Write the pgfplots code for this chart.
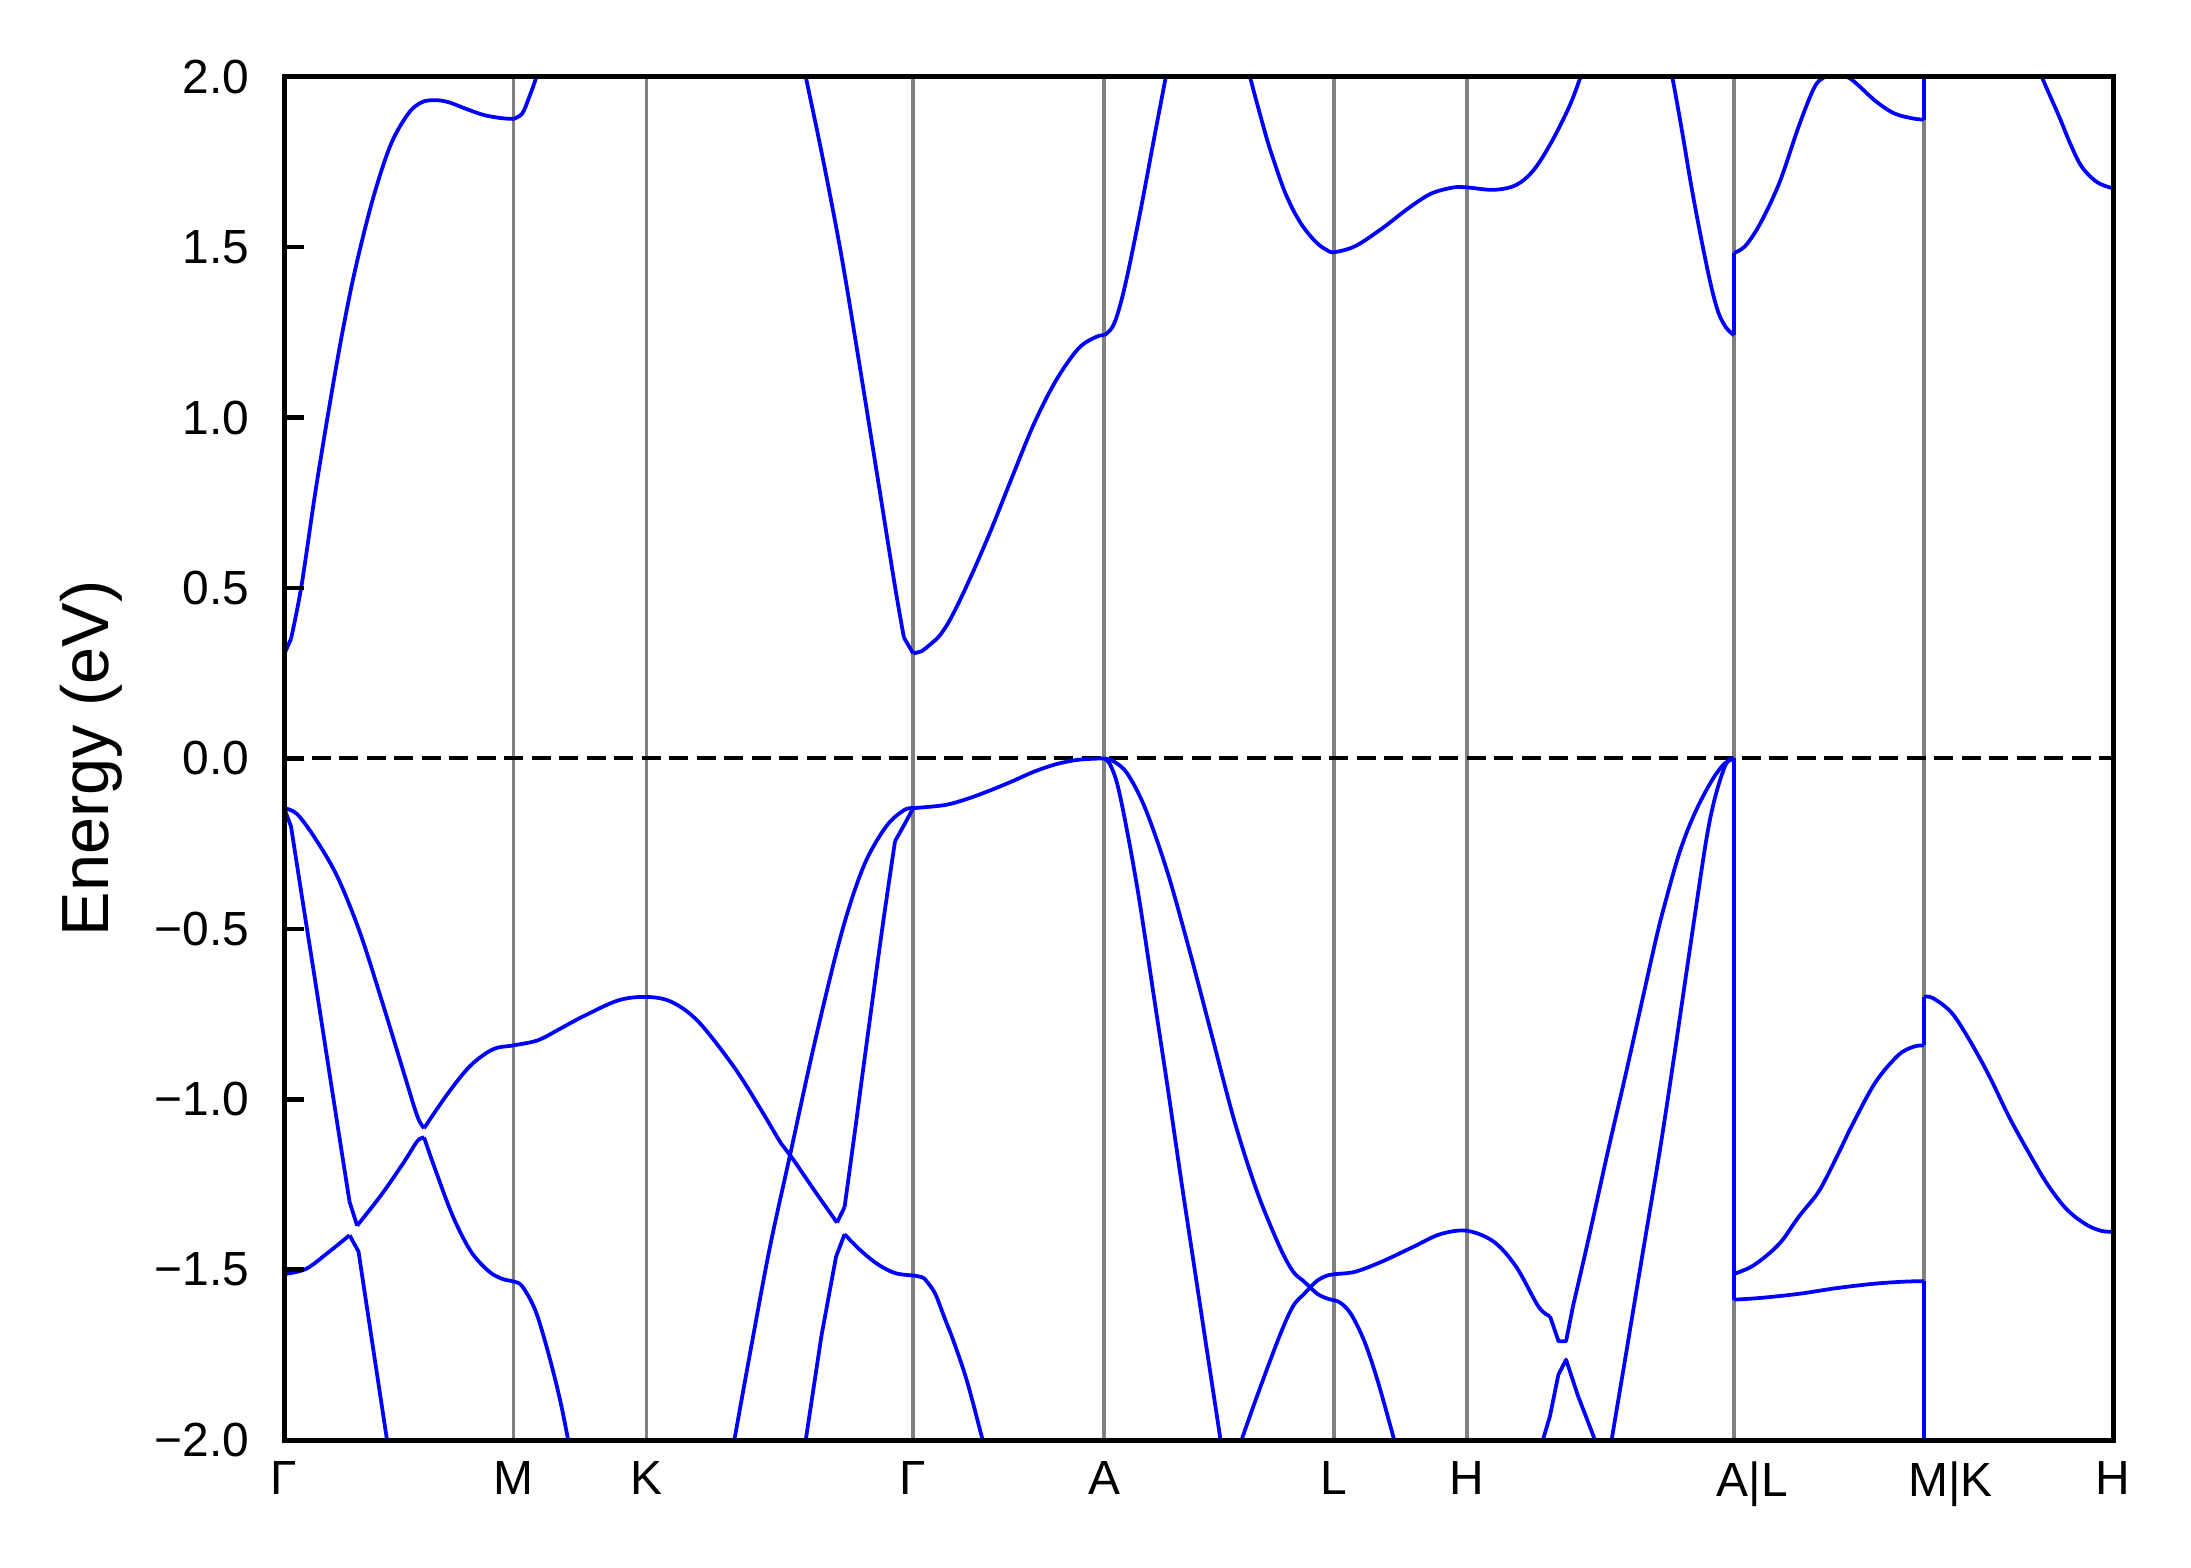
\documentclass[border=0pt]{standalone}
\usepackage{fontspec}
\setmainfont{Liberation Sans}
\usepackage{pgfplots}
\pgfplotsset{compat=1.18}
\definecolor{vgray}{RGB}{128,128,128}
\pgfplotsset{
  band/.style={color=blue, line width=0.9pt, line join=round, mark=none},
  sband/.style={band, smooth, tension=0.55},
  kline/.style={color=vgray, line width=0.9pt, mark=none},
}
\begin{document}
\begin{tikzpicture}
\begin{axis}[
    scale only axis,
    width=438.9pt, height=327.2pt,
    xmin=0, xmax=1309, ymin=-2, ymax=2,
    axis line style={line width=1.2pt},
    axis on top,
    xtick={0,164.2,259.4,450.2,587,751.5,846.8,1037.7,1173.6,1309},
    xticklabels={Γ,M,K,Γ,A,L,H,\hspace*{8.8pt}A|L,\hspace*{12.8pt}M|K,H},
    ytick={-2,-1.5,-1,-0.5,0,0.5,1,1.5,2},
    yticklabels={−2.0,−1.5,−1.0,−0.5,0.0,0.5,1.0,1.5,2.0},
    ytick pos=left, xtick pos=bottom,
    tick align=inside,
    major tick length=4.8pt,
    x tick style={draw=none},
    y tick style={line width=1.1pt, black},
    tick label style={font=\fontsize{11.5}{13}\selectfont, inner sep=0pt},
    yticklabel style={xshift=-8.2pt},
    xticklabel style={yshift=-5pt},
    ylabel={Energy (eV)},
    every axis y label/.style={at={(axis description cs:-0.1057,0.5)},
        rotate=90, anchor=center, font=\fontsize{16}{19}\selectfont},
]
% high-symmetry lines
\addplot[kline] coordinates {(164.2,-2)(164.2,2)};
\addplot[kline] coordinates {(259.4,-2)(259.4,2)};
\addplot[kline] coordinates {(450.2,-2)(450.2,2)};
\addplot[kline] coordinates {(587,-2)(587,2)};
\addplot[kline] coordinates {(751.5,-2)(751.5,2)};
\addplot[kline] coordinates {(846.8,-2)(846.8,2)};
\addplot[kline] coordinates {(1037.7,-2)(1037.7,2)};
\addplot[kline] coordinates {(1173.6,-2)(1173.6,2)};
% Fermi level
\addplot[black, line width=1pt, dash pattern=on 4.6pt off 2pt, mark=none]
  coordinates {(0,0)(1309,0)};

% ---- conduction bands
\addplot[band] coordinates {(0,0.305)(4.9,0.351)};
\addplot[sband] coordinates {(4.9,0.351)(12.3,0.504)(21.9,0.77)(31.4,1.01)(41.0,1.235)
  (50.6,1.43)(63.4,1.64)(76.2,1.80)(88.9,1.892)(98.5,1.925)(108.1,1.931)(117.7,1.925)
  (130.5,1.905)(143.3,1.887)(156.0,1.878)(164.2,1.876)};
\addplot[sband] coordinates {(164.2,1.876)(170.4,1.892)(175.2,1.938)(180.6,2.0)(184.8,2.06)};

\addplot[sband] coordinates {(371.8,2.03)(373.3,2.0)(386.1,1.748)(398.9,1.473)(411.6,1.159)
  (424.4,0.832)(437.2,0.504)(443.6,0.354)};
\addplot[band] coordinates {(443.6,0.354)(450.2,0.308)};
\addplot[sband] coordinates {(450.2,0.308)(456.4,0.315)(462,0.333)(469.1,0.360)
  (477,0.41)(488.7,0.508)(504.7,0.658)(520.7,0.822)(536.7,0.982)(552.6,1.11)(568.6,1.203)
  (581.4,1.237)(587,1.241)};
\addplot[sband] coordinates {(587,1.241)(592.6,1.264)(597.4,1.316)(603.7,1.421)(613.3,1.615)
  (622.9,1.825)(630.9,1.997)(632.5,2.03)};

\addplot[sband] coordinates {(688,2.06)(691.6,1.994)(702.8,1.825)(709,1.745)(715.6,1.668)(722,1.61)
  (728.4,1.565)(735,1.53)(741.1,1.505)(746,1.492)(751.4,1.485)(766.7,1.503)(785.9,1.555)
  (805.0,1.615)(821.0,1.657)(837.0,1.675)(846.6,1.675)(865.7,1.668)(881.7,1.682)(894.5,1.727)
  (907.3,1.810)(920.0,1.914)(928.0,2.0)(931.2,2.03)};

\addplot[sband] coordinates {(990.5,2.05)(993.6,1.997)(1000.5,1.840)(1007.3,1.675)(1014.2,1.525)
  (1021.0,1.391)(1026.5,1.308)(1032.0,1.264)(1037.7,1.241)};
\addplot[band] coordinates {(1037.7,1.241)(1037.7,1.483)};
\addplot[sband] coordinates {(1037.7,1.483)(1045.7,1.503)
  (1056.6,1.570)(1070.3,1.690)(1084.0,1.854)(1095.0,1.967)(1101.8,1.997)(1110,2.006)
  (1121.0,1.994)(1138.8,1.929)(1152.5,1.892)(1166.2,1.877)(1173.6,1.874)};
\addplot[band] coordinates {(1173.6,1.874)(1173.6,2.1)};
\addplot[sband] coordinates {(1255,2.05)(1258,2.0)(1270.3,1.884)(1278.5,1.802)(1286.7,1.735)
  (1297.7,1.690)(1309.2,1.672)};

% ---- valence bands
% Gamma - M - K - Gamma, upper branch
\addplot[sband] coordinates {(0,-0.146)(9.1,-0.163)(21.9,-0.233)(37.8,-0.345)(53.8,-0.506)
  (69.8,-0.710)(85.8,-0.925)(95.3,-1.050)(100.1,-1.085)};
\addplot[sband] coordinates {(100.1,-1.085)(117.7,-0.980)(133.7,-0.900)
  (149.7,-0.853)(164.3,-0.842)(181.6,-0.827)(197.6,-0.793)(213.5,-0.758)(239.1,-0.710)
  (259.9,-0.700)(277.5,-0.715)(296.6,-0.773)(322.2,-0.907)(341.3,-1.031)(355.7,-1.130)
  (363.7,-1.173)(379.7,-1.269)(395.7,-1.362)};
\addplot[band] coordinates {(395.7,-1.362)(401.1,-1.316)};
\addplot[sband] coordinates {(401.1,-1.316)(408.4,-1.097)(414.8,-0.900)
  (427.6,-0.513)(437.2,-0.243)};
\addplot[band] coordinates {(437.2,-0.243)(444.2,-0.192)(450.2,-0.146)};
% Gamma - A (two degenerate bands)
\addplot[sband] coordinates {(450.2,-0.146)
  (472.8,-0.137)(488.7,-0.119)(504.7,-0.095)(520.7,-0.068)(536.7,-0.039)(552.6,-0.017)
  (568.6,-0.004)(587,0.0)};
% A - L steep
\addplot[sband] coordinates {(587,0.0)
  (591.0,-0.017)(595.8,-0.068)(600.6,-0.156)(607.0,-0.295)(613.3,-0.448)(622.9,-0.71)
  (632.5,-0.97)(642.1,-1.24)(651.7,-1.50)(661.3,-1.76)(670.2,-2.0)(671.6,-2.04)};

% Gamma - M lower branches
\addplot[band] coordinates {(0,-0.146)(4.9,-0.200)(12.3,-0.395)(21.9,-0.645)(31.4,-0.897)
  (41.0,-1.150)(46.8,-1.301)(52.2,-1.371)};
\addplot[sband] coordinates {(52.2,-1.371)(69.8,-1.279)(85.8,-1.184)(95.3,-1.123)(100.1,-1.112)};
\addplot[sband] coordinates {(100.1,-1.112)
  (108.1,-1.206)(120.9,-1.345)(133.7,-1.447)(146.5,-1.505)(156.0,-1.527)(164.3,-1.535)
  (170.4,-1.549)(180.0,-1.622)(189.6,-1.753)(197.6,-1.885)(203.3,-2.0)(205.6,-2.04)};
\addplot[sband] coordinates {(0,-1.513)(15.5,-1.498)(31.4,-1.450)(46.8,-1.399)};
\addplot[band] coordinates {(46.8,-1.399)(53.2,-1.447)(63.4,-1.724)(73.6,-2.0)(75.2,-2.04)};

% K - Gamma wide band, then A - L wide band
\addplot[sband] coordinates {(320.6,-2.04)(322.2,-2.0)(335.0,-1.710)(347.7,-1.433)(362.1,-1.163)
  (379.7,-0.834)(398.9,-0.513)(414.8,-0.316)(430.8,-0.200)(443.6,-0.152)(450.2,-0.146)};
\addplot[sband] coordinates {(587,0.0)
  (594.2,-0.010)(603.7,-0.046)(616.5,-0.149)(632.5,-0.338)(648.5,-0.572)(664.4,-0.820)
  (680.4,-1.068)(696.4,-1.272)(712.4,-1.432)(722.0,-1.505)(730.0,-1.535)(739.5,-1.571)
  (747.5,-1.586)(755.5,-1.596)(763.5,-1.630)(773.1,-1.710)(782.7,-1.827)(794.5,-2.0)(797.0,-2.04)};

% K - Gamma - A lower band
\addplot[band] coordinates {(371.7,-2.04)(373.3,-2.0)(384.5,-1.695)(395.0,-1.462)(401.1,-1.396)};
\addplot[sband] coordinates {(401.1,-1.396)(411.6,-1.440)(424.4,-1.483)(437.2,-1.510)(450.2,-1.517)};
\addplot[sband] coordinates {(450.2,-1.517)(457.0,-1.523)(460,-1.535)
  (466.0,-1.571)(472.5,-1.640)(479.1,-1.710)(488.7,-1.827)(499.9,-2.0)(502.1,-2.04)};

% L - H - A|L - M|K - H
\addplot[sband] coordinates {(682.0,-2.04)(685.2,-2.0)(696.4,-1.870)(712.4,-1.695)(722.0,-1.608)
  (730.0,-1.571)(739.5,-1.532)(747.5,-1.516)(752.3,-1.513)(766.7,-1.506)(785.9,-1.476)
  (808.2,-1.433)(827.4,-1.396)(846.6,-1.386)(865.7,-1.418)(881.7,-1.491)(897.7,-1.608)
  (906,-1.637)};
\addplot[band] coordinates {(906,-1.637)(912.1,-1.710)(917.5,-1.710)(922.4,-1.608)};
\addplot[sband] coordinates {(922.4,-1.608)(933,-1.42)(947.7,-1.148)(960,-0.93)
  (972,-0.71)(983,-0.51)(991,-0.385)(998,-0.285)(1005,-0.205)(1012,-0.14)(1019,-0.085)
  (1025,-0.045)(1031,-0.015)(1037.7,0.0)};
\addplot[band] coordinates {(1037.7,0.0)(1037.7,-1.513)};
\addplot[sband] coordinates {(1037.7,-1.513)(1048.4,-1.495)(1056,-1.475)(1064.9,-1.445)(1073,-1.410)(1084.0,-1.345)
  (1096.8,-1.28)(1103.2,-1.235)(1113.5,-1.15)(1122.4,-1.075)(1138.8,-0.951)(1155.2,-0.871)
  (1166.2,-0.846)(1173.6,-0.842)};
\addplot[band] coordinates {(1173.6,-0.842)(1173.6,-0.700)};
\addplot[sband] coordinates {(1173.6,-0.700)(1179.9,-0.703)(1193.6,-0.747)(1207.3,-0.834)
  (1221.0,-0.937)(1234.7,-1.053)(1248.4,-1.155)(1262.1,-1.250)(1275.8,-1.323)(1289.5,-1.367)
  (1300.4,-1.386)(1309.2,-1.389)};
\addplot[band] coordinates {(899.5,-2.03)(900.9,-2.0)(906,-1.929)(912,-1.808)(917.5,-1.764)
  (926,-1.87)(938.2,-2.0)(940,-2.03)};
\addplot[sband] coordinates {(948.6,-2.04)(950.1,-2.0)(960.8,-1.737)(972,-1.46)(984.7,-1.148)
  (995,-0.87)(1005,-0.59)(1015.6,-0.297)(1020,-0.19)(1023.8,-0.120)(1028,-0.06)(1032,-0.016)
  (1035,-0.003)(1037.7,0.0)};
\addplot[band] coordinates {(1037.7,0.0)(1037.7,-1.588)};
\addplot[sband] coordinates {(1037.7,-1.588)(1056.6,-1.583)(1084.0,-1.571)(1111.4,-1.554)(1138.8,-1.541)(1160.7,-1.535)
  (1173.6,-1.534)};
\addplot[band] coordinates {(1173.6,-1.534)(1173.6,-2.1)};
\end{axis}
\pgfresetboundingbox
\path[use as bounding box] (-68.2pt,-30.5pt) rectangle (457.6pt,345.6pt);
\end{tikzpicture}
\end{document}
